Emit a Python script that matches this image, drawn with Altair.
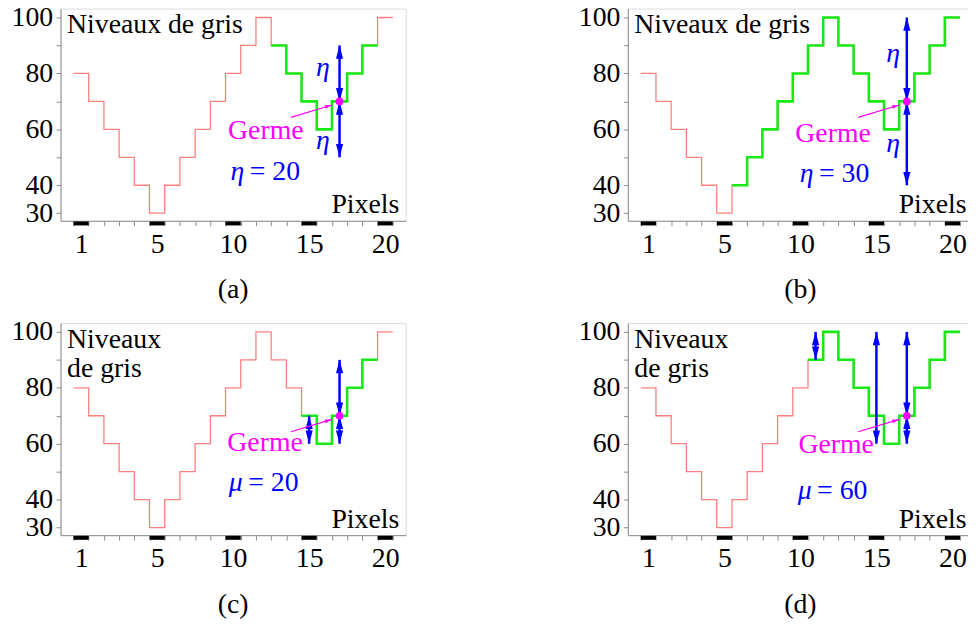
import math
import altair as alt
import pandas as pd

# ---------------- data ----------------
gray_levels = [80, 70, 60, 50, 40, 30, 40, 50, 60, 70, 80, 90, 100, 90, 80, 70, 60, 70, 80, 90, 100]
x_label_pos = [0, 5, 10, 15, 20]
x_labels = ["1", "5", "10", "15", "20"]
y_tick_values = [30, 40, 50, 60, 70, 80, 90, 100]
y_labelled = [30, 40, 60, 80, 100]

panel_ids = ["a", "b", "c", "d"]
panel_titles = ["(a)", "(b)", "(c)", "(d)"]
y_titles = ["Niveaux de gris", "Niveaux de gris", "Niveaux\nde gris", "Niveaux\nde gris"]
x_title = "Pixels"
green_first = [13, 6, 15, 11]
green_last = [19, 20, 19, 20]
crit_symbol = ["η", "η", "μ", "μ"]
crit_text = ["= 20", "= 30", "= 20", "= 60"]
crit_x = [11.4, 11.53, 11.3, 11.4]
crit_y = [41.8, 41.2, 43.2, 40.3]
germe_label = "Germe"
germe_x = [12.65, 12.65, 12.6, 12.85]
germe_y = [56.4, 55.4, 57.4, 56.8]

seed_pixel = 17
seed_level = 70
germe_arrow_x = [14.3, 17.0]
germe_arrow_y = [64.3, 68.7]

arrow_panel = ["a", "a", "b", "b", "c", "c", "c", "d", "d", "d", "d"]
arrow_pixel = [17, 17, 17, 17, 15, 17, 17, 11, 15, 17, 17]
arrow_from = [70, 70, 70, 70, 70, 70, 70, 90, 100, 70, 70]
arrow_to = [90, 50, 100, 40, 60, 90, 60, 100, 60, 100, 60]

eta_panel = ["a", "a", "b", "b"]
eta_x = [16.4, 16.4, 16.6, 16.6]
eta_y = [79, 53, 84, 52]

# ---------------- style ----------------
W, H = 348, 214
XDOM = [-0.85, 21.85]
YDOM = [27.3, 103.2]
FONT = "Liberation Serif, Times New Roman, Times, DejaVu Serif, serif"
RED = "#ff7f7f"
GREEN = "#18e818"
BLUE = "#0000ff"
MAGENTA = "#ff00ff"
FRAME = "#8c8c8c"
UP = "M0,0L-0.27,1L0.27,1Z"
DOWN = "M0,0L-0.27,-1L0.27,-1Z"

XS = alt.Scale(domain=XDOM, nice=False, zero=False)
YS = alt.Scale(domain=YDOM, nice=False, zero=False)
px_per_x = W / (XDOM[1] - XDOM[0])
px_per_y = H / (YDOM[1] - YDOM[0])

label_expr_x = " : ".join(
    f"datum.value == {p} ? '{t}'" for p, t in zip(x_label_pos, x_labels)
) + " : ''"
label_expr_y = "indexof([" + ",".join(str(v) for v in y_labelled) + "], datum.value) >= 0 ? datum.label : ''"

x_axis = alt.Axis(values=list(range(22)), labelExpr=label_expr_x, labelOffset=px_per_x / 2,
                  tickSize=5, tickColor=FRAME, domainColor=FRAME, grid=False, title=None,
                  labelFont=FONT, labelFontSize=28, labelColor="black", labelPadding=5,
                  labelOverlap=False, labelFlush=False)
y_axis = alt.Axis(values=y_tick_values, labelExpr=label_expr_y, tickSize=4.5, tickColor=FRAME,
                  domainColor=FRAME, grid=False, title=None, labelFont=FONT, labelFontSize=28,
                  labelColor="black", labelPadding=3.4, labelOverlap=False, labelFlush=False)


def X(f):
    return alt.X(f, type="quantitative", scale=XS, axis=x_axis)


def Y(f):
    return alt.Y(f, type="quantitative", scale=YS, axis=y_axis)


def steps(first, last):
    rows = []
    for i in range(first, last + 1):
        v = gray_levels[i]
        rows.append({"x": i, "y": v, "o": 2 * i})
        rows.append({"x": i + 1, "y": v, "o": 2 * i + 1})
    return pd.DataFrame(rows)


# direction of the "Germe" pointer in pixels
dxp = (germe_arrow_x[1] - germe_arrow_x[0]) * px_per_x
dyp = -(germe_arrow_y[1] - germe_arrow_y[0]) * px_per_y
pointer_angle = math.degrees(math.atan2(dxp, -dyp))


def panel(k):
    pid = panel_ids[k]
    red = alt.Chart(steps(0, len(gray_levels) - 1)).mark_line(
        color=RED, strokeWidth=1.3).encode(x=X("x"), y=Y("y"), order="o:Q")
    green = alt.Chart(steps(green_first[k], green_last[k])).mark_line(
        color=GREEN, strokeWidth=2.6, strokeJoin="miter").encode(x=X("x"), y=Y("y"), order="o:Q")

    # black marks under the pixel axis at the labelled pixels
    bars = pd.DataFrame({"x": x_label_pos})
    bars["x2"] = bars["x"] + 1
    pix_bars = alt.Chart(bars).mark_rule(color="black", strokeWidth=4, strokeCap="butt").encode(
        x=X("x"), x2="x2", y=alt.value(H + 2.7))

    arr = pd.DataFrame({"p": arrow_panel, "i": arrow_pixel, "a": arrow_from, "b": arrow_to})
    arr = arr[arr.p == pid].copy()
    arr["x"] = arr["i"] + 0.5
    arr["hi"] = arr[["a", "b"]].max(axis=1)
    arr["lo"] = arr[["a", "b"]].min(axis=1)
    shafts = alt.Chart(arr).mark_rule(color=BLUE, strokeWidth=2.5).encode(
        x=X("x"), y=Y("a"), y2="b")
    heads_up = alt.Chart(arr).mark_point(shape=UP, filled=True, color=BLUE, opacity=1,
                                         size=720, strokeWidth=0).encode(x=X("x"), y=Y("hi"))
    heads_dn = alt.Chart(arr).mark_point(shape=DOWN, filled=True, color=BLUE, opacity=1,
                                         size=720, strokeWidth=0).encode(x=X("x"), y=Y("lo"))

    ptr = pd.DataFrame({"x": [germe_arrow_x[0]], "y": [germe_arrow_y[0]],
                        "x2": [germe_arrow_x[1]], "y2": [germe_arrow_y[1]]})
    pointer = alt.Chart(ptr).mark_rule(color=MAGENTA, strokeWidth=1.2).encode(
        x=X("x"), y=Y("y"), x2="x2", y2="y2")
    pointer_head = alt.Chart(ptr).mark_point(shape=UP, filled=True, color=MAGENTA, opacity=1,
                                             size=200, strokeWidth=0,
                                             angle=pointer_angle).encode(x=X("x2"), y=Y("y2"))
    seed = pd.DataFrame({"x": [seed_pixel + 0.5], "y": [seed_level]})
    dot = alt.Chart(seed).mark_circle(color=MAGENTA, opacity=1, size=60).encode(x=X("x"), y=Y("y"))

    germe = alt.Chart(pd.DataFrame({"x": [germe_x[k]], "y": [germe_y[k]], "t": [germe_label]})).mark_text(
        font=FONT, fontSize=28, color=MAGENTA, align="center", baseline="alphabetic").encode(
        x=X("x"), y=Y("y"), text="t:N")

    crit = pd.DataFrame({"x": [crit_x[k]], "y": [crit_y[k]], "s": [crit_symbol[k]], "t": [crit_text[k]]})
    crit_sym = alt.Chart(crit).mark_text(font=FONT, fontSize=28, fontStyle="italic", color=BLUE,
                                         align="right", baseline="alphabetic", dx=-2.5).encode(
        x=X("x"), y=Y("y"), text="s:N")
    crit_val = alt.Chart(crit).mark_text(font=FONT, fontSize=28, color=BLUE,
                                         align="left", baseline="alphabetic", dx=3).encode(
        x=X("x"), y=Y("y"), text="t:N")

    layers = [red, green, pix_bars, shafts, heads_up, heads_dn, pointer, pointer_head, dot, germe,
              crit_sym, crit_val]

    et = pd.DataFrame({"p": eta_panel, "x": eta_x, "y": eta_y})
    et = et[et.p == pid].copy()
    if len(et):
        et["t"] = "η"
        layers.append(alt.Chart(et).mark_text(font=FONT, fontSize=28, fontStyle="italic", color=BLUE,
                                              align="center", baseline="alphabetic").encode(
            x=X("x"), y=Y("y"), text="t:N"))

    ytitle = alt.Chart(pd.DataFrame({"t": [y_titles[k]]})).mark_text(
        font=FONT, fontSize=28, color="black", align="left", baseline="alphabetic",
        lineBreak="\n", lineHeight=30).encode(x=alt.value(6.5), y=alt.value(25), text="t:N")
    xtitle = alt.Chart(pd.DataFrame({"t": [x_title]})).mark_text(
        font=FONT, fontSize=28, color="black", align="right", baseline="alphabetic").encode(
        x=alt.value(W - 6.5), y=alt.value(H - 7.7), text="t:N")
    layers += [ytitle, xtitle]

    return alt.layer(*layers).properties(
        width=W, height=H,
        title=alt.TitleParams(text=panel_titles[k], orient="bottom", anchor="middle", offset=18,
                              font=FONT, fontSize=28, fontWeight="normal", color="black"))


chart = alt.concat(*[panel(k) for k in range(4)], columns=2,
                   spacing={"row": 103, "column": 224}, bounds="flush").properties(
    padding={"left": 2, "top": -8, "right": -6, "bottom": -2}
).configure_view(stroke=FRAME, strokeWidth=1).configure(background="white")

chart.save("out.html", embed_options={"renderer": "svg", "actions": False})
